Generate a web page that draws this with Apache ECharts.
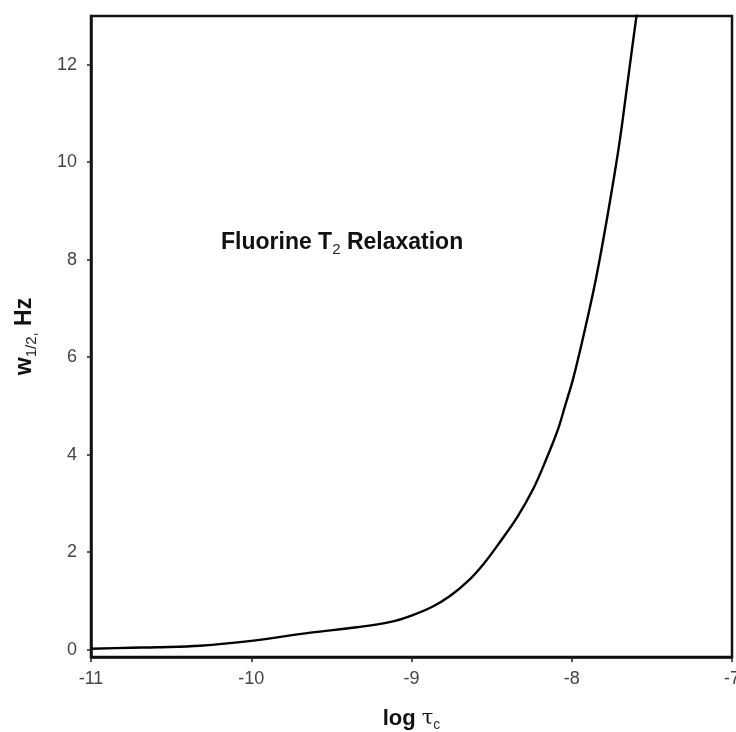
<!DOCTYPE html>
<html>
<head>
<meta charset="utf-8">
<script src="https://cdn.jsdelivr.net/npm/echarts@6/dist/echarts.min.js"></script>
<style>html,body{margin:0;padding:0;background:#fff}#c{width:736px;height:732px}</style>
</head>
<body>
<div id="c"></div>
<script>
const logTau = [-11.0, -10.75, -10.59, -10.32, -10.0, -9.63, -9.34, -9.13, -9.0, -8.87, -8.76, -8.65, -8.55, -8.45, -8.34, -8.24, -8.16, -8.086, -8.04, -7.992, -7.917, -7.849, -7.774, -7.705, -7.649, -7.599, -7.585];
const width = [0.02, 0.04, 0.05, 0.08, 0.18, 0.35, 0.46, 0.57, 0.70, 0.88, 1.10, 1.40, 1.76, 2.20, 2.72, 3.30, 3.90, 4.52, 5.02, 5.55, 6.58, 7.61, 8.96, 10.34, 11.70, 12.93, 13.2];
const xTicks = [-11, -10, -9, -8, -7];
const yTicks = [0, 2, 4, 6, 8, 10, 12];

const chart = echarts.init(document.getElementById('c'));
const font = 'Liberation Sans, Arial, sans-serif';
chart.setOption({
  backgroundColor: '#fff',
  animation: false,
  grid: {left: 91, right: 4, top: 16, bottom: 75, outerBoundsMode: 'none', containLabel: false,
    show: true, borderColor: '#111', borderWidth: 2.5},
  xAxis: {
    type: 'value', min: -11, max: -7, interval: 1,
    axisLine: {show: true, onZero: false, lineStyle: {color: '#111', width: 2.5}},
    axisTick: {show: true, length: 5, lineStyle: {color: '#222', width: 1.5}},
    splitLine: {show: false},
    axisLabel: {color: '#444', fontFamily: font, fontSize: 18, margin: 13,
      formatter: v => xTicks.includes(v) ? String(v) : ''},
    name: '{m|log }{t|τ}{s|c}', nameLocation: 'middle', nameGap: 49,
    nameTextStyle: {rich: {
      m: {fontFamily: font, fontSize: 22, fontWeight: 'bold', color: '#111', lineHeight: 26},
      t: {fontFamily: 'DejaVu Serif, serif', fontSize: 21, color: '#111', lineHeight: 26},
      s: {fontFamily: font, fontSize: 14, color: '#333', verticalAlign: 'bottom', padding: [10, 0, 0, 0], lineHeight: 16}
    }}
  },
  yAxis: {
    type: 'value', min: -0.15, max: 13,
    axisLine: {show: true, lineStyle: {color: '#111', width: 2.5}},
    axisTick: {show: true, length: 4, customValues: yTicks, lineStyle: {color: '#222', width: 1.5}},
    splitLine: {show: false},
    axisLabel: {color: '#444', fontFamily: font, fontSize: 18, margin: 14,
      customValues: yTicks, formatter: v => String(v)},
    name: '{m|w}{s|1/2,}{m| Hz}', nameLocation: 'middle', nameGap: 52, nameRotate: 90,
    nameTextStyle: {rich: {
      m: {fontFamily: font, fontSize: 23, fontWeight: 'bold', color: '#111', lineHeight: 28},
      s: {fontFamily: font, fontSize: 15, color: '#222', verticalAlign: 'bottom', padding: [11, 0, 0, 0], lineHeight: 17}
    }}
  },
  graphic: [{
    type: 'text', left: 221, top: 231,
    style: {
      text: '{m|Fluorine T}{s|2}{m| Relaxation}',
      rich: {
        m: {fontFamily: font, fontSize: 23, fontWeight: 'bold', fill: '#111', lineHeight: 28},
        s: {fontFamily: font, fontSize: 15, fill: '#222', verticalAlign: 'bottom', padding: [11, 0, 0, 0], lineHeight: 17}
      }
    }
  }],
  series: [{
    type: 'line', data: logTau.map((x, i) => [x, width[i]]),
    showSymbol: false, smooth: 0.35, clip: true,
    lineStyle: {color: '#000', width: 2.4}
  }]
});
</script>
</body>
</html>
